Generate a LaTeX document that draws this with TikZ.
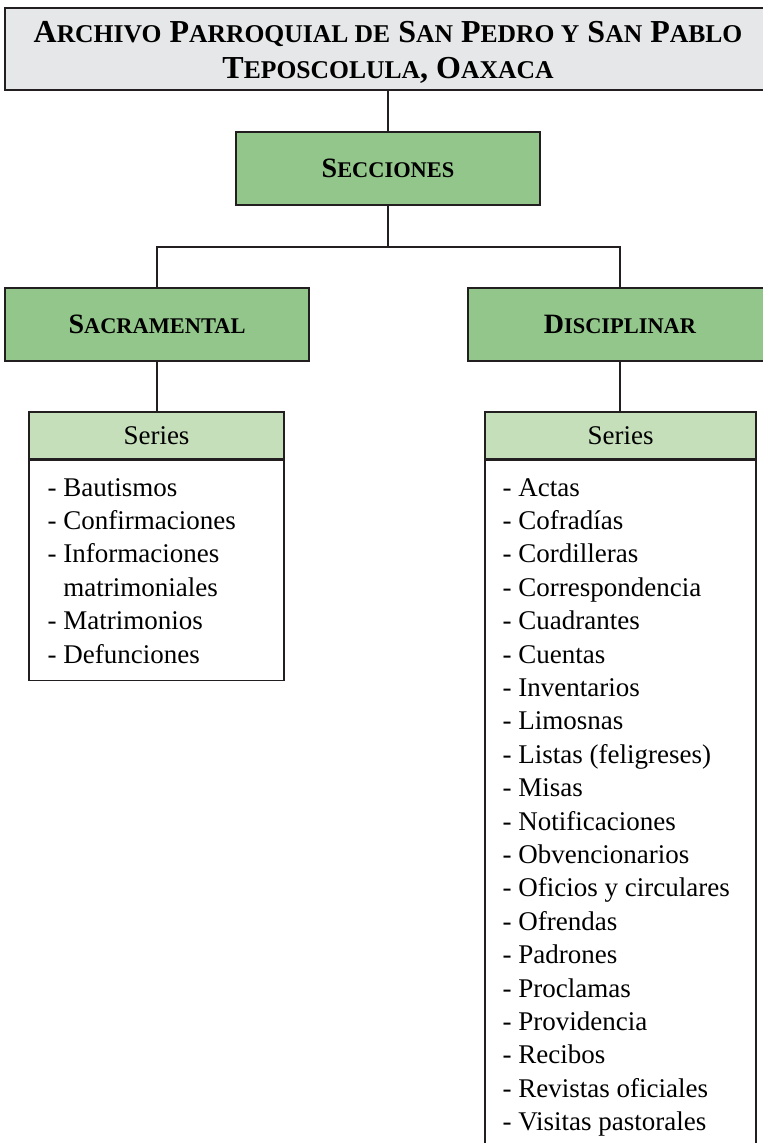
\documentclass[tikz,border=0pt]{standalone}
\usepackage{fontspec}
\setmainfont{Liberation Serif}
\usepackage{xcolor}
\usetikzlibrary{positioning}

\definecolor{titlegray}{HTML}{E6E7E8}
\definecolor{secgreen}{HTML}{93C68A}
\definecolor{serhead}{HTML}{C6DFBB}
\definecolor{edgegray}{HTML}{231F20}

\newcommand{\lowcaps}[1]{{\fontsize{12.8}{18}\selectfont #1}}
\newcommand{\lowsec}[1]{{\fontsize{11.2}{16}\selectfont #1}}

\begin{document}
\begin{tikzpicture}[x=0.5pt, y=-0.5pt, line width=0.6pt, draw=edgegray,
    titlebox/.style = {draw=edgegray, fill=titlegray, inner sep=0pt},
    titletext/.style = {inner sep=0pt, align=center, font=\fontsize{16}{18}\selectfont\bfseries},
    secbox/.style = {draw=edgegray, fill=secgreen, inner sep=0pt, minimum width=152pt,
        minimum height=36.5pt, font=\fontsize{14}{16}\selectfont\bfseries},
    headbox/.style = {draw=edgegray, fill=serhead, inner sep=0pt, minimum height=23.5pt,
        font=\fontsize{13.5}{16}\selectfont},
    listbox/.style = {draw=edgegray, fill=white, inner sep=0pt},
    entry/.style = {inner sep=0pt, anchor=base west, font=\fontsize{13.5}{16}\selectfont}]
  \useasboundingbox (0,0) rectangle (762,1143);

  \node[titlebox, minimum width=383pt, minimum height=41pt] (archivo) at (388,49) {};
  \node[titletext] (archtxt) at (388,52)
    {A\lowcaps{RCHIVO} P\lowcaps{ARROQUIAL DE} S\lowcaps{AN} P\lowcaps{EDRO Y} S\lowcaps{AN} P\lowcaps{ABLO}\\
     T\lowcaps{EPOSCOLULA}, O\lowcaps{AXACA}};
  \node[secbox] (secc) at (388,168.5) {S\lowsec{ECCIONES}};
  \node[secbox] (sacr) at (157,324.5) {S\lowsec{ACRAMENTAL}};
  \node[secbox] (disc) at (620,324.5) {D\lowsec{ISCIPLINAR}};

  % series
  \node[headbox, minimum width=127.5pt] (sachd) at (156.5,435.5) {Series};
  \node[headbox, minimum width=135.5pt] (dischd) at (620.5,435.5) {Series};
  \node[listbox, minimum width=127.5pt, minimum height=110pt, below=0pt of sachd] (saclist) {};
  \node[listbox, minimum width=135.5pt, minimum height=346pt, below=0pt of dischd] (disclist) {};

  \coordinate (split) at (388,247);
  \draw (archivo.south) -- (secc.north);
  \draw (secc.south) -- (split);
  \draw (sacr.north) |- (split) -| (disc.north);
  \draw (sacr.south) -- (sacr.south |- sachd.north);
  \draw (disc.south) -- (disc.south |- dischd.north);

  \foreach \txt [count=\k from 0] in {- Bautismos, - Confirmaciones, - Informaciones,
      \phantom{- }matrimoniales, - Matrimonios, - Defunciones}
    \node[entry] (sac\k) at (47,{496+33.4*\k}) {\txt};

  \foreach \txt [count=\k from 0] in {- Actas, - Cofradías, - Cordilleras, - Correspondencia,
      - Cuadrantes, - Cuentas, - Inventarios, - Limosnas, - Listas (feligreses), - Misas,
      - Notificaciones, - Obvencionarios, - Oficios y circulares, - Ofrendas, - Padrones,
      - Proclamas, - Providencia, - Recibos, - Revistas oficiales, - Visitas pastorales}
    \node[entry] (dis\k) at (502,{496+33.4*\k}) {\txt};
\end{tikzpicture}
\end{document}
